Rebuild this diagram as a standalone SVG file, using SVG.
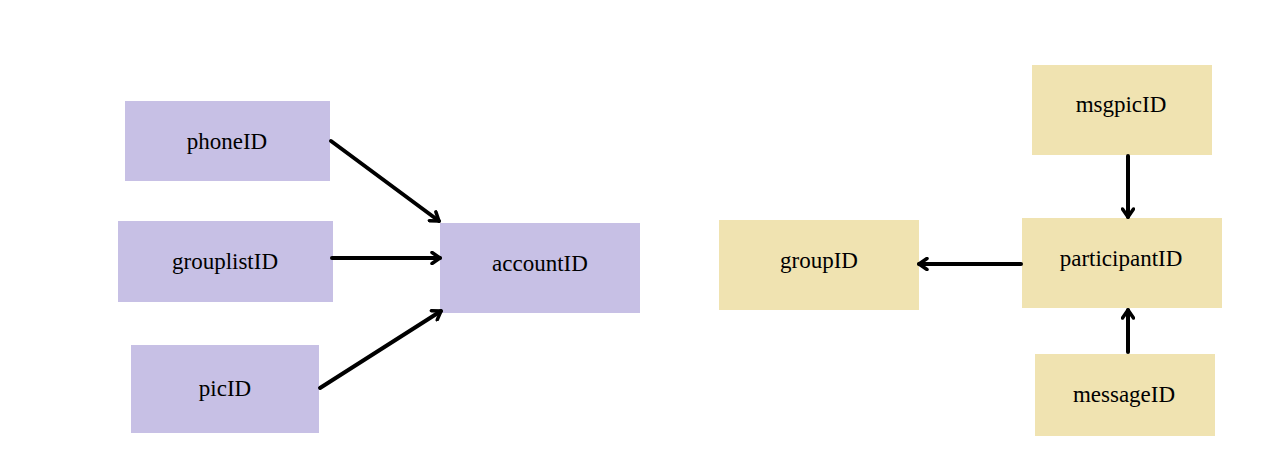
<svg xmlns="http://www.w3.org/2000/svg" width="1275" height="457" viewBox="0 0 1275 457">
<style>
.p{fill:#c7c0e5}
.y{fill:#f0e3b1}
.t{font-family:'Liberation Serif','Times New Roman',serif;font-size:23px;fill:#000;text-anchor:middle}
.c{stroke:#000;stroke-width:4;fill:none;stroke-linecap:round}
</style>
<defs>
<marker id="ah" viewBox="0 0 14 14" refX="11" refY="7" markerWidth="14" markerHeight="14" markerUnits="userSpaceOnUse" orient="auto">
<path d="M3,1.5 L11,7 L3,12.5" fill="none" stroke="#000" stroke-width="3.5" stroke-linecap="round" stroke-linejoin="round"/>
</marker>
</defs>
<rect width="1275" height="457" fill="#fff"/>
<g id="phoneID"><rect class="p" x="125" y="101" width="205" height="80"/><text class="t" font-family="Liberation Serif, serif" x="227" y="149">phoneID</text></g>
<g id="grouplistID"><rect class="p" x="118" y="221" width="215" height="81"/><text class="t" font-family="Liberation Serif, serif" x="225" y="269">grouplistID</text></g>
<g id="picID"><rect class="p" x="131" y="345" width="188" height="88"/><text class="t" font-family="Liberation Serif, serif" x="225" y="396">picID</text></g>
<g id="accountID"><rect class="p" x="440" y="223" width="200" height="90"/><text class="t" font-family="Liberation Serif, serif" x="540" y="271">accountID</text></g>
<g id="groupID"><rect class="y" x="719" y="220" width="200" height="90"/><text class="t" font-family="Liberation Serif, serif" x="819" y="268">groupID</text></g>
<g id="msgpicID"><rect class="y" x="1032" y="65" width="180" height="90"/><text class="t" font-family="Liberation Serif, serif" x="1121" y="112">msgpicID</text></g>
<g id="participantID"><rect class="y" x="1022" y="218" width="200" height="90"/><text class="t" font-family="Liberation Serif, serif" x="1121" y="266">participantID</text></g>
<g id="messageID"><rect class="y" x="1035" y="354" width="180" height="82"/><text class="t" font-family="Liberation Serif, serif" x="1124" y="402">messageID</text></g>
<g id="connectors">
<line class="c" x1="331" y1="141" x2="439" y2="221" marker-end="url(#ah)"/>
<line class="c" x1="332" y1="258" x2="440" y2="258" marker-end="url(#ah)"/>
<line class="c" x1="320" y1="388" x2="441" y2="311" marker-end="url(#ah)"/>
<line class="c" x1="1128" y1="156" x2="1128" y2="217" marker-end="url(#ah)"/>
<line class="c" x1="1128" y1="352" x2="1128" y2="310" marker-end="url(#ah)"/>
<line class="c" x1="1021" y1="264" x2="919" y2="264" marker-end="url(#ah)"/>
</g>
</svg>
